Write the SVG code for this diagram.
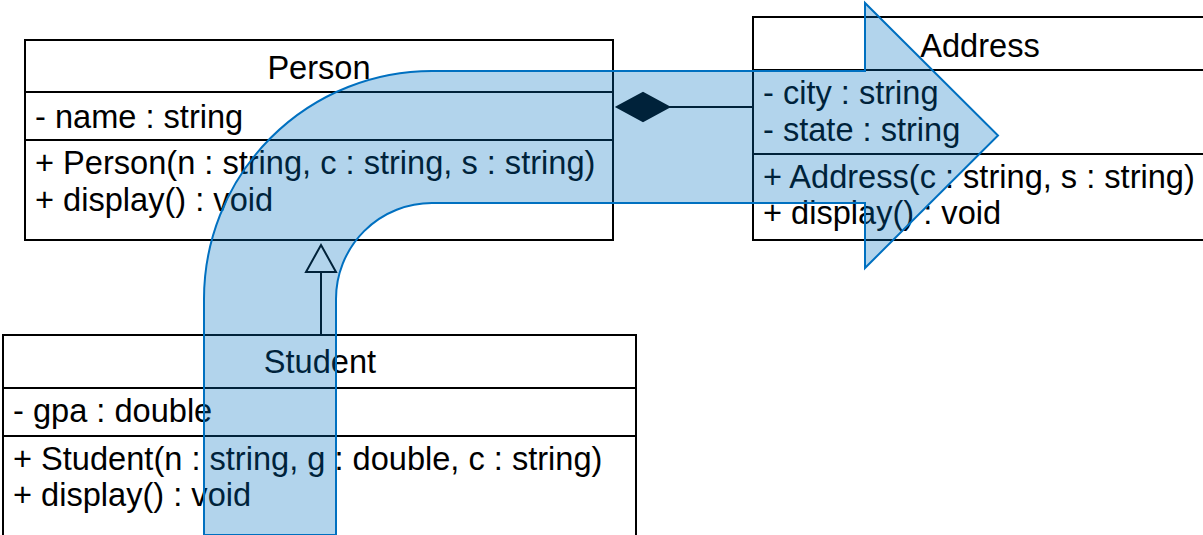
<svg xmlns="http://www.w3.org/2000/svg" width="1203" height="535" viewBox="0 0 1203 535">
<style>
.box{fill:#fff;stroke:#000;stroke-width:2}
.div{stroke:#000;stroke-width:2}
text{font-family:"Liberation Sans",Arial,sans-serif;font-size:32.6px;fill:#000}
.c{text-anchor:middle}
.conn{stroke:#000;stroke-width:2;fill:none}
</style>
<rect width="1203" height="535" fill="#fff"/>
<g id="person">
<rect class="box" x="25" y="40" width="588" height="200"/>
<line class="div" x1="25" y1="92" x2="613" y2="92"/>
<line class="div" x1="25" y1="140" x2="613" y2="140"/>
<text class="c" x="319" y="79">Person</text>
<text x="35" y="128">- name : string</text>
<text x="35" y="174">+ Person(n : string, c : string, s : string)</text>
<text x="35" y="211">+ display() : void</text>
</g>
<g id="address">
<rect class="box" x="753" y="17" width="456" height="223"/>
<line class="div" x1="753" y1="70" x2="1209" y2="70"/>
<line class="div" x1="753" y1="154" x2="1209" y2="154"/>
<text class="c" x="980" y="57">Address</text>
<text x="763" y="104">- city : string</text>
<text x="763" y="141">- state : string</text>
<text x="763" y="188">+ Address(c : string, s : string)</text>
<text x="763" y="224">+ display() : void</text>
</g>
<g id="student">
<rect class="box" x="3" y="335" width="633" height="210"/>
<line class="div" x1="3" y1="388" x2="636" y2="388"/>
<line class="div" x1="3" y1="436" x2="636" y2="436"/>
<text class="c" x="320" y="373">Student</text>
<text x="13" y="422">- gpa : double</text>
<text x="13" y="470">+ Student(n : string, g : double, c : string)</text>
<text x="13" y="506">+ display() : void</text>
</g>
<g id="connectors">
<line class="conn" x1="669" y1="107" x2="753" y2="107"/>
<polygon points="617,107 643,93 669,107 643,121" fill="#000" stroke="#000" stroke-width="2"/>
<line class="conn" x1="321" y1="335" x2="321" y2="272"/>
<polygon points="321,245 336,272 306,272" fill="#fff" stroke="#000" stroke-width="2"/>
</g>
<g id="big-arrow">
<path d="M204 535 L204 299 A228 228 0 0 1 432 71 L865 71 L865 3 L998 135.5 L865 268 L865 203 L432 203 A96 96 0 0 0 336 299 L336 535 Z" fill="#0070C0" fill-opacity="0.3" stroke="#0070C0" stroke-width="2"/>
</g>
</svg>
